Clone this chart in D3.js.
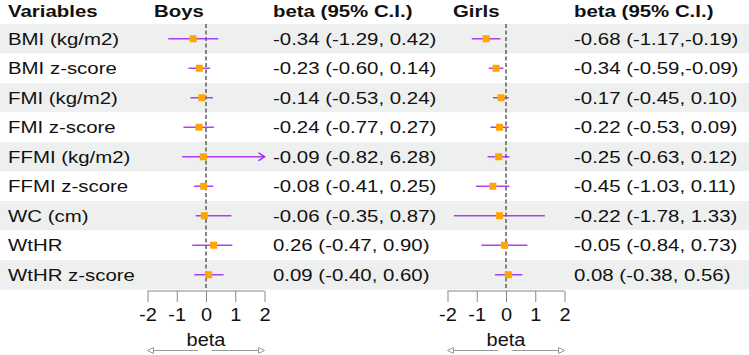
<!DOCTYPE html>
<html><head><meta charset="utf-8">
<script src="https://cdn.jsdelivr.net/npm/d3@7"></script>
<style>body{margin:0;background:#fff}svg{display:block;font-family:"Liberation Sans",Arial,sans-serif}</style>
</head><body><svg id="c" width="749" height="355"></svg>
<script>
const variables = ["BMI (kg/m2)","BMI z-score","FMI (kg/m2)","FMI z-score","FFMI (kg/m2)","FFMI z-score","WC (cm)","WtHR","WtHR z-score"];
// Boys: plotted estimate, lower, upper, label
const boysEst   = [-0.44,-0.23,-0.14,-0.24,-0.09,-0.08,-0.06,0.26,0.09];
const boysLow   = [-1.29,-0.60,-0.53,-0.77,-0.82,-0.41,-0.35,-0.47,-0.40];
const boysHigh  = [0.42,0.14,0.24,0.27,6.28,0.25,0.87,0.90,0.60];
const boysText  = ["-0.34 (-1.29, 0.42)","-0.23 (-0.60, 0.14)","-0.14 (-0.53, 0.24)","-0.24 (-0.77, 0.27)","-0.09 (-0.82, 6.28)","-0.08 (-0.41, 0.25)","-0.06 (-0.35, 0.87)","0.26 (-0.47, 0.90)","0.09 (-0.40, 0.60)"];
const girlsEst  = [-0.68,-0.34,-0.17,-0.22,-0.25,-0.45,-0.22,-0.05,0.08];
const girlsLow  = [-1.17,-0.59,-0.45,-0.53,-0.63,-1.03,-1.78,-0.84,-0.38];
const girlsHigh = [-0.19,-0.09,0.10,0.09,0.12,0.11,1.33,0.73,0.56];
const girlsText = ["-0.68 (-1.17,-0.19)","-0.34 (-0.59,-0.09)","-0.17 (-0.45, 0.10)","-0.22 (-0.53, 0.09)","-0.25 (-0.63, 0.12)","-0.45 (-1.03, 0.11)","-0.22 (-1.78, 1.33)","-0.05 (-0.84, 0.73)","0.08 (-0.38, 0.56)"];
const tickValues = [-2,-1,0,1,2];
const headers = {vars:"Variables", boys:"Boys", girls:"Girls", beta:"beta (95% C.I.)", axis:"beta"};

const FS = 17.3, SX = 1.18;
const svg = d3.select("#c");
const W = 749, top0 = 24, rowH = 29.5;
const y = d3.scaleBand().domain(d3.range(variables.length)).range([top0, top0 + rowH*variables.length]).padding(0);
const yc = i => y(i) + y.bandwidth()/2;

function txt(sel, s, px, py, opts={}){
  const t = sel.append("text").attr("transform",`translate(${px},${py}) scale(${opts.sx||SX},1)`)
    .attr("font-size",opts.fs||FS).attr("fill","#111").text(s);
  if (opts.bold) t.attr("font-weight","bold");
  if (opts.anchor) t.attr("text-anchor",opts.anchor);
  return t;
}

// row bands
svg.selectAll("rect.band").data(variables).join("rect")
  .attr("x",0).attr("width",W).attr("y",(d,i)=>y(i)).attr("height",y.bandwidth())
  .attr("fill",(d,i)=> i%2===0 ? "#EEF0EF" : "#FFFFFF");

// headers
[[headers.vars,8],[headers.boys,154],[headers.beta,273],[headers.girls,453],[headers.beta,574]]
  .forEach(d => txt(svg, d[0], d[1], 17, {bold:true}));

// variable labels
variables.forEach((d,i)=> txt(svg, d, 8, yc(i)+6.2));

function panel(x0, x1, est, low, high, labels, textX){
  const x = d3.scaleLinear().domain([-2,2]).range([x0,x1]);
  const g = svg.append("g");
  // zero line
  g.append("line").attr("x1",x(0)).attr("x2",x(0)).attr("y1",top0).attr("y2",top0+rowH*variables.length)
    .attr("stroke","#777").attr("stroke-width",1.8).attr("stroke-dasharray","4,2.5");
  est.forEach((e,i)=>{
    const lo = Math.max(-2, low[i]), hi = Math.min(2, high[i]);
    const cy = yc(i);
    g.append("line").attr("x1",x(lo)).attr("x2",x(hi)).attr("y1",cy).attr("y2",cy)
      .attr("stroke","#A020F0").attr("stroke-width",1.5).attr("opacity",0.85);
    if (high[i] > 2) {
      g.append("path").attr("d",`M${x(2)-6},${cy-4}L${x(2)},${cy}L${x(2)-6},${cy+4}`)
        .attr("fill","none").attr("stroke","#A020F0").attr("stroke-width",1.5);
    }
    if (low[i] < -2) {
      g.append("path").attr("d",`M${x(-2)+6},${cy-4}L${x(-2)},${cy}L${x(-2)+6},${cy+4}`)
        .attr("fill","none").attr("stroke","#A020F0").attr("stroke-width",1.5);
    }
    g.append("rect").attr("x",x(e)-3.5).attr("y",cy-3.5).attr("width",7).attr("height",7).attr("fill","#FFA500");
  });
  // axis
  const axY = top0 + rowH*variables.length + 1.5;
  const ax = g.append("g").attr("transform",`translate(0,${axY})`)
    .call(d3.axisBottom(x).tickValues(tickValues).tickSize(11).tickPadding(6).tickFormat(d => String(d)));
  ax.select(".domain").attr("stroke","#888").attr("d",`M${x0},0H${x1}`);
  ax.selectAll(".tick line").attr("stroke","#888");
  ax.selectAll(".tick text").attr("font-size",18.5).attr("fill","#111")
    .attr("font-family","Liberation Sans, Arial, sans-serif").attr("dy","0.71em").attr("transform","scale(1.08,1)");
  txt(g, headers.axis, x(0), 346, {fs:18.5, sx:1.08, anchor:"middle"});
  // direction arrows
  const ay = 350.5;
  g.append("line").attr("x1",x(-2)+5).attr("x2",x(-0.27)).attr("y1",ay).attr("y2",ay).attr("stroke","#999");
  g.append("path").attr("d",`M${x(-2)},${ay}L${x(-2)+6},${ay-3}L${x(-2)+6},${ay+3}Z`).attr("fill","#fff").attr("stroke","#999");
  g.append("line").attr("x1",x(0.2)).attr("x2",x(2)-5).attr("y1",ay).attr("y2",ay).attr("stroke","#999");
  g.append("path").attr("d",`M${x(2)},${ay}L${x(2)-6},${ay-3}L${x(2)-6},${ay+3}Z`).attr("fill","#fff").attr("stroke","#999");
  // CI text
  labels.forEach((d,i)=> txt(g, d, textX, yc(i)+6.2));
}
panel(147.5, 264.5, boysEst, boysLow, boysHigh, boysText, 273);
panel(447.5, 564.5, girlsEst, girlsLow, girlsHigh, girlsText, 574);
</script></body></html>
